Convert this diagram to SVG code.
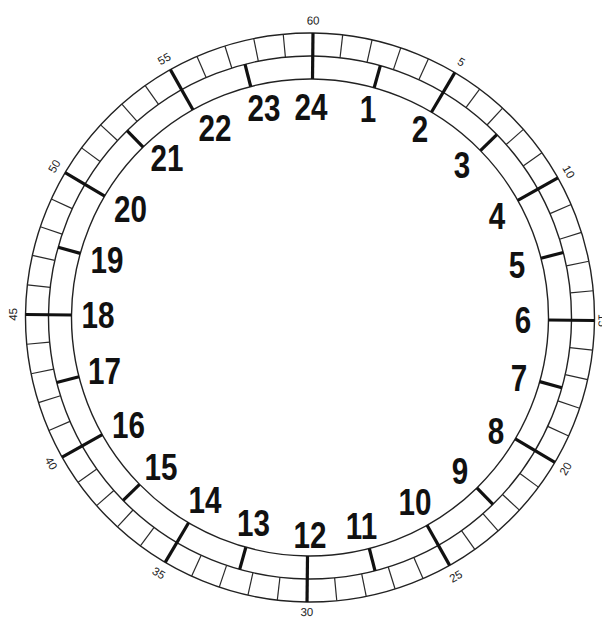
<svg xmlns="http://www.w3.org/2000/svg" xmlns:xlink="http://www.w3.org/1999/xlink" width="602" height="619" viewBox="0 0 602 619">
<style>
.ring{fill:none;stroke:#222;stroke-width:1.4}
.thin{stroke:#2a2a2a;stroke-width:1.2}
.thick{stroke:#111;stroke-width:3.2}
.min{font-family:"Liberation Sans",Arial,sans-serif;font-size:11.5px;fill:#222;text-anchor:middle;dominant-baseline:central}
.hr{font-family:"Liberation Sans",Arial,sans-serif;font-weight:bold;font-size:37px;fill:#111;text-anchor:middle}
</style>
<defs>
<line id="m" class="thin" x1="310" y1="33" x2="310" y2="56"/>
<line id="T" class="thick" x1="310" y1="33" x2="310" y2="79"/>
<line id="h" class="thick" x1="310" y1="56" x2="310" y2="79"/>
</defs>
<rect width="602" height="619" fill="#fff"/>
<g id="dial" transform="rotate(0.6 310 317.5)">
<circle class="ring" cx="310" cy="317.5" r="284.5"/>
<circle class="ring" cx="310" cy="317.5" r="261.5"/>
<circle class="ring" cx="310" cy="317.5" r="238.5"/>
<g id="minute-cells">
<use href="#m" transform="rotate(6 310 317.5)"/><use href="#m" transform="rotate(12 310 317.5)"/><use href="#m" transform="rotate(18 310 317.5)"/><use href="#m" transform="rotate(24 310 317.5)"/>
<use href="#m" transform="rotate(36 310 317.5)"/><use href="#m" transform="rotate(42 310 317.5)"/><use href="#m" transform="rotate(48 310 317.5)"/><use href="#m" transform="rotate(54 310 317.5)"/>
<use href="#m" transform="rotate(66 310 317.5)"/><use href="#m" transform="rotate(72 310 317.5)"/><use href="#m" transform="rotate(78 310 317.5)"/><use href="#m" transform="rotate(84 310 317.5)"/>
<use href="#m" transform="rotate(96 310 317.5)"/><use href="#m" transform="rotate(102 310 317.5)"/><use href="#m" transform="rotate(108 310 317.5)"/><use href="#m" transform="rotate(114 310 317.5)"/>
<use href="#m" transform="rotate(126 310 317.5)"/><use href="#m" transform="rotate(132 310 317.5)"/><use href="#m" transform="rotate(138 310 317.5)"/><use href="#m" transform="rotate(144 310 317.5)"/>
<use href="#m" transform="rotate(156 310 317.5)"/><use href="#m" transform="rotate(162 310 317.5)"/><use href="#m" transform="rotate(168 310 317.5)"/><use href="#m" transform="rotate(174 310 317.5)"/>
<use href="#m" transform="rotate(186 310 317.5)"/><use href="#m" transform="rotate(192 310 317.5)"/><use href="#m" transform="rotate(198 310 317.5)"/><use href="#m" transform="rotate(204 310 317.5)"/>
<use href="#m" transform="rotate(216 310 317.5)"/><use href="#m" transform="rotate(222 310 317.5)"/><use href="#m" transform="rotate(228 310 317.5)"/><use href="#m" transform="rotate(234 310 317.5)"/>
<use href="#m" transform="rotate(246 310 317.5)"/><use href="#m" transform="rotate(252 310 317.5)"/><use href="#m" transform="rotate(258 310 317.5)"/><use href="#m" transform="rotate(264 310 317.5)"/>
<use href="#m" transform="rotate(276 310 317.5)"/><use href="#m" transform="rotate(282 310 317.5)"/><use href="#m" transform="rotate(288 310 317.5)"/><use href="#m" transform="rotate(294 310 317.5)"/>
<use href="#m" transform="rotate(306 310 317.5)"/><use href="#m" transform="rotate(312 310 317.5)"/><use href="#m" transform="rotate(318 310 317.5)"/><use href="#m" transform="rotate(324 310 317.5)"/>
<use href="#m" transform="rotate(336 310 317.5)"/><use href="#m" transform="rotate(342 310 317.5)"/><use href="#m" transform="rotate(348 310 317.5)"/><use href="#m" transform="rotate(354 310 317.5)"/>
</g>
<g id="five-minute-ticks">
<use href="#T"/><use href="#T" transform="rotate(30 310 317.5)"/><use href="#T" transform="rotate(60 310 317.5)"/><use href="#T" transform="rotate(90 310 317.5)"/>
<use href="#T" transform="rotate(120 310 317.5)"/><use href="#T" transform="rotate(150 310 317.5)"/><use href="#T" transform="rotate(180 310 317.5)"/><use href="#T" transform="rotate(210 310 317.5)"/>
<use href="#T" transform="rotate(240 310 317.5)"/><use href="#T" transform="rotate(270 310 317.5)"/><use href="#T" transform="rotate(300 310 317.5)"/><use href="#T" transform="rotate(330 310 317.5)"/>
</g>
<g id="hour-ticks">
<use href="#h" transform="rotate(15 310 317.5)"/><use href="#h" transform="rotate(45 310 317.5)"/><use href="#h" transform="rotate(75 310 317.5)"/><use href="#h" transform="rotate(105 310 317.5)"/>
<use href="#h" transform="rotate(135 310 317.5)"/><use href="#h" transform="rotate(165 310 317.5)"/><use href="#h" transform="rotate(195 310 317.5)"/><use href="#h" transform="rotate(225 310 317.5)"/>
<use href="#h" transform="rotate(255 310 317.5)"/><use href="#h" transform="rotate(285 310 317.5)"/><use href="#h" transform="rotate(315 310 317.5)"/><use href="#h" transform="rotate(345 310 317.5)"/>
</g>
<g id="minute-labels">
<text class="min" x="310" y="20.5">60</text>
<text class="min" x="310" y="20.5" transform="rotate(30 310 317.5)">5</text>
<text class="min" x="310" y="20.5" transform="rotate(60 310 317.5)">10</text>
<text class="min" x="310" y="25" transform="rotate(90 310 317.5)">15</text>
<text class="min" x="310" y="614.5" transform="rotate(-60 310 317.5)">20</text>
<text class="min" x="310" y="614.5" transform="rotate(-30 310 317.5)">25</text>
<text class="min" x="310" y="612">30</text>
<text class="min" x="310" y="614.5" transform="rotate(30 310 317.5)">35</text>
<text class="min" x="310" y="614.5" transform="rotate(60 310 317.5)">40</text>
<text class="min" x="310" y="20.5" transform="rotate(270 310 317.5)">45</text>
<text class="min" x="310" y="20.5" transform="rotate(300 310 317.5)">50</text>
<text class="min" x="310" y="20.5" transform="rotate(330 310 317.5)">55</text>
</g>
</g>
<g id="hour-labels">
<text class="hr" transform="translate(311 120) scale(0.8 1)">24</text>
<text class="hr" transform="translate(368 122) scale(0.8 1)">1</text>
<text class="hr" transform="translate(420 142) scale(0.8 1)">2</text>
<text class="hr" transform="translate(462 178) scale(0.8 1)">3</text>
<text class="hr" transform="translate(497 229) scale(0.8 1)">4</text>
<text class="hr" transform="translate(517 278) scale(0.8 1)">5</text>
<text class="hr" transform="translate(523 333) scale(0.8 1)">6</text>
<text class="hr" transform="translate(519 391) scale(0.8 1)">7</text>
<text class="hr" transform="translate(496 444) scale(0.8 1)">8</text>
<text class="hr" transform="translate(460 484) scale(0.8 1)">9</text>
<text class="hr" transform="translate(415 515) scale(0.8 1)">10</text>
<text class="hr" transform="translate(361.5 539) scale(0.8 1)">11</text>
<text class="hr" transform="translate(310 548) scale(0.8 1)">12</text>
<text class="hr" transform="translate(253.5 536) scale(0.8 1)">13</text>
<text class="hr" transform="translate(205 513) scale(0.8 1)">14</text>
<text class="hr" transform="translate(161 480) scale(0.8 1)">15</text>
<text class="hr" transform="translate(128.5 438) scale(0.8 1)">16</text>
<text class="hr" transform="translate(104.5 384) scale(0.8 1)">17</text>
<text class="hr" transform="translate(98 328) scale(0.8 1)">18</text>
<text class="hr" transform="translate(107 273) scale(0.8 1)">19</text>
<text class="hr" transform="translate(130.5 222) scale(0.8 1)">20</text>
<text class="hr" transform="translate(167 171) scale(0.8 1)">21</text>
<text class="hr" transform="translate(215 141) scale(0.8 1)">22</text>
<text class="hr" transform="translate(264 121) scale(0.8 1)">23</text>
</g>
</svg>
